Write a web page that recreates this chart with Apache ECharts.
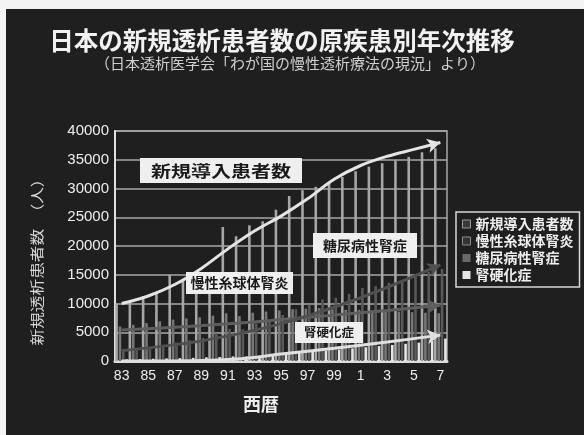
<!DOCTYPE html>
<html>
<head>
<meta charset="utf-8">
<script src="https://cdn.jsdelivr.net/npm/echarts@6/dist/echarts.min.js"></script>
<style>
  html, body { margin: 0; padding: 0; background: #f4f4f4; }
  #wrap { position: relative; width: 584px; height: 435px; overflow: hidden; }
  #panel { position: absolute; left: 6px; top: 9px; right: 0; bottom: 0; background: #1f1f1f; }
  #chart { position: absolute; left: 0; top: 0; width: 584px; height: 435px; }
</style>
</head>
<body>
<div id="wrap"><div id="panel"></div><div id="chart"></div></div>
<script>
// 年次（1983〜2007）
const years = ['1983','1984','1985','1986','1987','1988','1989','1990','1991','1992','1993','1994',
  '1995','1996','1997','1998','1999','2000','2001','2002','2003','2004','2005','2006','2007'];

// 原疾患別 新規導入患者数（人）
const totalPatients       = [10000,10500,11300,11700,15000,14000,14500,15000,23300,21700,23600,24300,
  26300,28700,29700,30300,31000,32000,33000,33800,34400,34900,35500,36300,37000];
const glomerulonephritis  = [6000,6300,6600,6900,7200,7400,7600,7900,8300,7800,8400,8600,
  8800,9000,9100,9200,9000,8900,8900,8800,8800,8600,8500,8400,8300];
const diabeticNephropathy = [1700,2000,2400,2800,3200,3600,4000,4800,5600,5500,6500,7000,
  8000,9000,9800,10700,11000,11700,12700,13000,13600,14000,15000,15500,16000];
const nephrosclerosis     = [300,350,400,450,500,550,650,700,800,800,900,1000,
  1200,1400,1600,1800,2000,2200,2400,2600,2800,3000,3200,3500,3900];

// 推移を示す矢印（年, 人）
const totalTrend = [['1983',10000],['1985',11300],['1987',13300],['1989',16100],['1991',19500],['1993',22600],
  ['1995',25200],['1997',28200],['1999',31600],['2001',34000],['2003',35600],['2005',36800],['2007',38000]];
const glomerulonephritisTrend = [['1983',5400],['1988',6000],['1993',6800],['1998',7800],['2003',8800],['2007',9700]];
const diabeticTrend = [['1983',1800],['1989',3500],['1995',6500],['2001',11000],['2007',16700]];
const nephrosclerosisTrend = [['1983',0],['1989',100],['1992',400],['1995',1200],['1999',2200],['2003',3300],['2007',4500]];

// 目盛
const yTicks = { min: 0, max: 40000, interval: 5000 };

const seriesNames = ['新規導入患者数', '慢性糸球体腎炎', '糖尿病性腎症', '腎硬化症'];
const barColors = ['#a6a6a6', '#777777', '#595959', '#e6e6e6'];

const chart = echarts.init(document.getElementById('chart'), null, { renderer: 'canvas' });
const FONT = '"Noto Sans CJK JP", "Noto Sans", sans-serif';

function barSeries(name, data, color) {
  return {
    name: name, type: 'bar', data: data,
    barWidth: 2.6, barGap: '30%',
    itemStyle: { color: color },
    z: 2
  };
}

function trendData(data, rotate) {
  return data.map((p, i) => i === data.length - 1
    ? { value: p, symbol: 'arrow', symbolSize: [11, 13], symbolRotate: rotate }
    : { value: p, symbol: 'none' });
}

function trendSeries(id, data, color, width) {
  return {
    id: id, name: id, type: 'line', smooth: 0.35,
    data: trendData(data, 0),
    showSymbol: true,
    lineStyle: { color: color, width: width },
    itemStyle: { color: color },
    z: 4
  };
}

function label(text, x, y, w, h, size, scale) {
  return {
    type: 'group', left: x, top: y, z: 100,
    children: [
      { type: 'rect', shape: { x: 0, y: 0, width: w, height: h }, style: { fill: '#efefef' }, z: 100 },
      { type: 'text', x: w / 2, y: h / 2, scaleX: scale, z: 101,
        style: { text: text, fill: '#1a1a1a', font: 'bold ' + size + 'px ' + FONT, align: 'center', verticalAlign: 'middle' } }
    ]
  };
}

const option = {
  animation: false,
  backgroundColor: 'transparent',
  textStyle: { fontFamily: FONT },
  legend: {
    orient: 'vertical', left: 456, top: 212,
    data: [
      { name: seriesNames[0], itemStyle: { color: '#3a3a3a', borderColor: '#9a9a9a', borderWidth: 1 } },
      { name: seriesNames[1], itemStyle: { color: '#333333', borderColor: '#8a8a8a', borderWidth: 1 } },
      { name: seriesNames[2], itemStyle: { color: '#6a6a6a' } },
      { name: seriesNames[3], itemStyle: { color: '#e6e6e6' } }
    ],
    icon: 'rect', itemWidth: 8, itemHeight: 8, itemGap: 3,
    padding: [5, 6, 5, 6],
    borderColor: '#d8d8d8', borderWidth: 1.5,
    textStyle: { color: '#eeeeee', fontSize: 14, fontFamily: FONT, fontWeight: 'bold' }
  },
  grid: {
    left: 115, right: 137, top: 131, bottom: 74,
    show: true, borderColor: '#a8a8a8', borderWidth: 1.5
  },
  xAxis: {
    type: 'category', data: years, boundaryGap: true,
    axisLine: { lineStyle: { color: '#dddddd', width: 3 } },
    axisTick: { show: false },
    axisLabel: {
      interval: 1, color: '#eeeeee', fontSize: 14, margin: 8,
      fontFamily: 'Liberation Sans, Arial, sans-serif',
      formatter: v => String(Number(v) % 100)
    },
    splitLine: { show: false }
  },
  yAxis: {
    type: 'value', min: yTicks.min, max: yTicks.max, interval: yTicks.interval,
    axisLine: { show: true, lineStyle: { color: '#e0e0e0', width: 2 } },
    axisTick: { show: false },
    axisLabel: { color: '#eeeeee', fontSize: 15, margin: 6, fontFamily: 'Liberation Sans, Arial, sans-serif',
      formatter: v => String(v) },
    splitLine: { lineStyle: { color: '#a8a8a8', width: 1.5 } }
  },
  graphic: [
    { type: 'text', x: 282, y: 41, z: 100,
      style: { text: '日本の新規透析患者数の原疾患別年次推移', fill: '#f2f2f2', font: 'bold 24.5px ' + FONT, align: 'center', verticalAlign: 'middle' } },
    { type: 'text', x: 290, y: 63, z: 100,
      style: { text: '（日本透析医学会「わが国の慢性透析療法の現況」より）', fill: '#cfcfcf', font: '15px ' + FONT, align: 'center', verticalAlign: 'middle' } },
    { type: 'text', x: 37, y: 258, rotation: Math.PI / 2, scaleX: 1.19, z: 100,
      style: { text: '新規透析患者数　（人）', fill: '#d8d8d8', font: '14px ' + FONT, align: 'center', verticalAlign: 'middle' } },
    { type: 'text', x: 261, y: 404, z: 100,
      style: { text: '西暦', fill: '#eeeeee', font: 'bold 18px ' + FONT, align: 'center', verticalAlign: 'middle' } },
    label('新規導入患者数', 140, 158, 162, 25, 16, 1.25),
    label('糖尿病性腎症', 313, 233, 104, 25, 14, 1),
    label('慢性糸球体腎炎', 186, 272, 107, 22, 14, 1),
    label('腎硬化症', 295, 322, 68, 21, 12.5, 1)
  ],
  series: [
    barSeries(seriesNames[0], totalPatients, barColors[0]),
    barSeries(seriesNames[1], glomerulonephritis, barColors[1]),
    barSeries(seriesNames[2], diabeticNephropathy, barColors[2]),
    barSeries(seriesNames[3], nephrosclerosis, barColors[3]),
    trendSeries('trendTotal', totalTrend, '#e4e4e4', 3),
    trendSeries('trendGlomerulonephritis', glomerulonephritisTrend, '#5e5e5e', 3),
    trendSeries('trendDiabetic', diabeticTrend, '#505050', 3),
    trendSeries('trendNephrosclerosis', nephrosclerosisTrend, '#e0e0e0', 3)
  ]
};

chart.setOption(option);

// 矢印の向きを最後の区間の傾きに合わせる
const trends = [
  ['trendTotal', totalTrend], ['trendGlomerulonephritis', glomerulonephritisTrend],
  ['trendDiabetic', diabeticTrend], ['trendNephrosclerosis', nephrosclerosisTrend]
];
const updates = trends.map(([id, data]) => {
  const n = data.length;
  const a = chart.convertToPixel({ xAxisIndex: 0, yAxisIndex: 0 }, [years.indexOf(data[n - 2][0]), data[n - 2][1]]);
  const b = chart.convertToPixel({ xAxisIndex: 0, yAxisIndex: 0 }, [years.indexOf(data[n - 1][0]), data[n - 1][1]]);
  const ang = Math.atan2(a[1] - b[1], b[0] - a[0]) * 180 / Math.PI;
  return { id: id, data: trendData(data, ang - 90) };
});
chart.setOption({ series: updates });
</script>
</body>
</html>
